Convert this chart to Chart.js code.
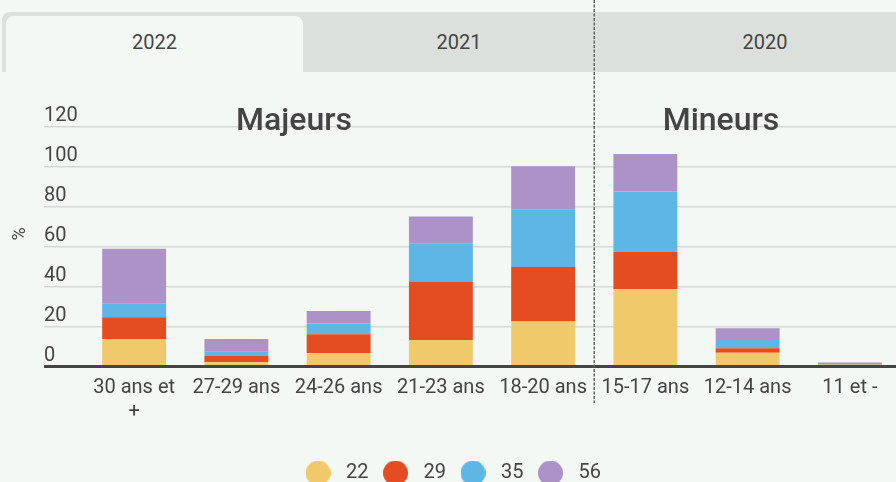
<!DOCTYPE html>
<html>
<head>
<meta charset="utf-8">
<script src="https://cdn.jsdelivr.net/npm/chart.js@4/dist/chart.umd.min.js"></script>
<style>
  html, body { margin: 0; padding: 0; background: #f4f8f5; overflow: hidden; width: 896px; height: 482px; font-family: Roboto, sans-serif; }
  #tabs { position: absolute; left: 2px; top: 12px; width: 1000px; height: 60px; background: #dce0dd; border-top-left-radius: 8px; }
  .tab { position: absolute; top: 4px; height: 56px; line-height: 53px; text-align: center; font-size: 20px; color: #444; }
  .tab.active { background: #f4f8f5; border-radius: 8px 8px 0 0; }
  #wrap { position: absolute; left: 0; top: 0; width: 905px; height: 493px; }
</style>
</head>
<body>
<div id="tabs">
  <div class="tab active" style="left:4px;width:297px;">2022</div>
  <div class="tab" style="left:301px;width:312px;">2021</div>
  <div class="tab" style="left:613px;width:300px;">2020</div>
</div>
<div id="wrap"><canvas id="c" width="905" height="493"></canvas></div>
<script>
// ---- data ----
const categories = [['30 ans et', '+'], '27-29 ans', '24-26 ans', '21-23 ans', '18-20 ans', '15-17 ans', '12-14 ans', '11 et -'];
const seriesNames = ['22', '29', '35', '56'];
const s22 = [13.8, 2.1, 6.8, 13.3, 22.5, 38.7, 6.9, 0.9];
const s29 = [10.9, 3.2, 9.3, 29.3, 27.3, 18.8, 2.2, 0.1];
const s35 = [7.0, 2.3, 5.4, 18.9, 28.7, 30.2, 4.7, 0.2];
const s56 = [27.3, 6.2, 6.3, 13.7, 21.8, 18.8, 5.4, 0.8];
const yTicks = [0, 20, 40, 60, 80, 100, 120];
const groupLabels = ['Majeurs', 'Mineurs'];
const axisTitle = '%';

const colors = ['#f0ca6a', '#e44d22', '#5db6e6', '#ad92c8'];
const seriesValues = [s22, s29, s35, s56];

function dot(color) {
  const c = document.createElement('canvas');
  c.width = 25; c.height = 25;
  const g = c.getContext('2d');
  g.fillStyle = color;
  g.beginPath(); g.arc(12.5, 12.5, 12.5, 0, Math.PI * 2); g.fill();
  return c;
}
const dots = colors.map(dot);

Chart.defaults.font.family = 'Roboto';
Chart.defaults.color = '#444';

const extras = {
  id: 'extras',
  afterDatasetsDraw(chart) {
    const ctx = chart.ctx;
    const x = chart.scales.x, y = chart.scales.y;
    ctx.save();
    // baseline on top of bars
    ctx.strokeStyle = '#444';
    ctx.lineWidth = 3;
    const y0 = y.getPixelForValue(0);
    ctx.beginPath(); ctx.moveTo(44, y0); ctx.lineTo(chart.width, y0); ctx.stroke();
    // dashed separator between 18-20 and 15-17
    const xs = (x.getPixelForValue(4) + x.getPixelForValue(5)) / 2;
    ctx.strokeStyle = '#666';
    ctx.lineWidth = 1.5;
    ctx.setLineDash([3, 1.5]);
    ctx.beginPath(); ctx.moveTo(xs, 0); ctx.lineTo(xs, 403); ctx.stroke();
    ctx.setLineDash([]);
    // group labels
    ctx.fillStyle = '#444';
    ctx.font = '500 32px Roboto';
    ctx.textAlign = 'center';
    ctx.textBaseline = 'alphabetic';
    ctx.fillText(groupLabels[0], 294, 130);
    ctx.fillText(groupLabels[1], 721, 130);
    // axis title
    ctx.font = '18px Roboto';
    ctx.textBaseline = 'middle';
    ctx.translate(20, 234);
    ctx.rotate(-Math.PI / 2);
    ctx.fillText(axisTitle, 0, 0);
    ctx.restore();
  }
};

new Chart(document.getElementById('c'), {
  type: 'bar',
  data: {
    labels: categories,
    datasets: seriesNames.map((n, i) => ({
      label: n,
      data: seriesValues[i],
      backgroundColor: colors[i],
      borderWidth: 0,
      barPercentage: 1,
      categoryPercentage: 0.625
    }))
  },
  options: {
    responsive: false,
    devicePixelRatio: 1,
    animation: false,
    layout: { padding: { left: 0, right: 4, top: 127, bottom: 0 } },
    plugins: {
      tooltip: { enabled: false },
      legend: {
        position: 'bottom',
        labels: {
          usePointStyle: true,
          pointStyleWidth: 36,
          padding: 9,
          color: '#444',
          font: { size: 20 },
          generateLabels(chart) {
            const items = Chart.defaults.plugins.legend.labels.generateLabels(chart);
            items.forEach((it, i) => { it.pointStyle = dots[i]; it.lineWidth = 0; });
            return items;
          }
        }
      }
    },
    scales: {
      x: {
        stacked: true,
        grid: { display: false },
        border: { display: false },
        ticks: { color: '#444', font: { size: 20 }, padding: 1, maxRotation: 0, autoSkip: false },
        afterFit(s) { s.height = 87.5; }
      },
      y: {
        stacked: true,
        min: 0, max: 120,
        afterBuildTicks(s) { s.ticks = yTicks.map(v => ({ value: v })); },
        border: { display: false },
        grid: {
          color: c => c.tick && c.tick.value === 0 ? '#444' : '#d5d9d6',
          lineWidth: c => c.tick && c.tick.value === 0 ? 3 : 1.5,
          tickLength: 39,
          drawTicks: true
        },
        ticks: {
          mirror: true,
          crossAlign: 'near',
          padding: -39,
          labelOffset: -11,
          color: '#444',
          font: { size: 20 }
        },
        afterFit(s) { s.width = 83; }
      }
    }
  },
  plugins: [extras]
});
</script>
</body>
</html>
